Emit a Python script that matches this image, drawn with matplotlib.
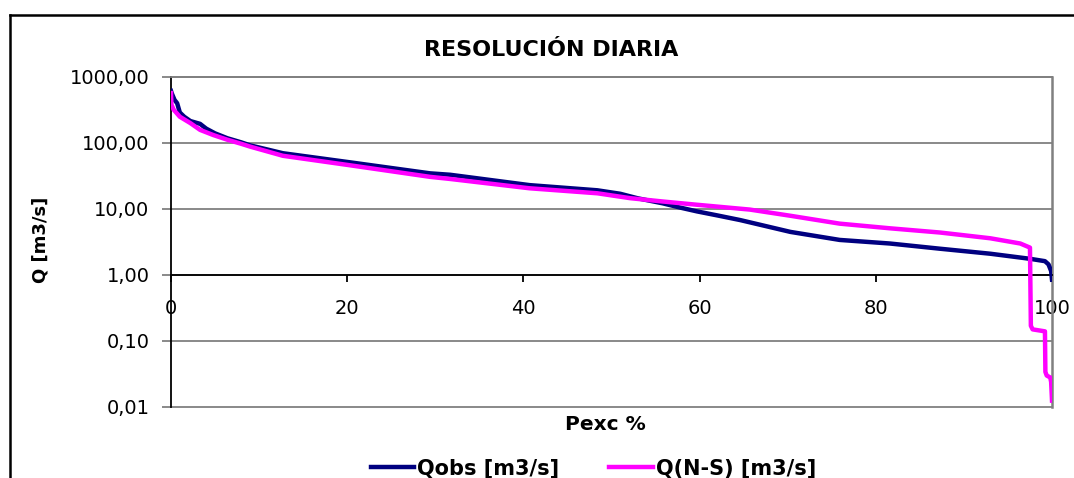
import matplotlib
matplotlib.use("Agg")
import matplotlib.pyplot as plt
from matplotlib.lines import Line2D

plt.rcParams['font.family'] = ['DejaVu Sans']

# ---- data ----
pexc_obs = [0, 0.1, 0.4, 0.7, 1.0, 1.5, 2.2, 3.3, 4.0, 5.0, 6.4, 8.0, 9.0,
            12.7, 20.3, 29.4, 31.7, 40.7, 48.4, 51.0, 53.0, 55.8, 57.8, 59.7,
            62.0, 64.6, 70.3, 75.9, 81.6, 87.3, 93.0, 97.5, 99.2, 99.6, 99.9,
            100]
q_obs = [615, 560, 450, 400, 290, 250, 215, 195, 165, 140, 118, 102, 92,
         70, 51, 34.7, 33, 23, 19.2, 17, 14.5, 12.2, 10.5, 9.2,
         8.0, 6.8, 4.5, 3.4, 3.0, 2.5, 2.1, 1.76, 1.62, 1.45, 1.15,
         0.85]

pexc_ns = [0, 0.05, 0.3, 1.0, 2.2, 3.3, 4.8, 6.4, 8.0, 9.0, 12.7, 20.3, 29.4,
           31.7, 40.7, 48.4, 52.1, 55.8, 59.7, 65.7, 70.3, 75.9, 81.6, 87.3,
           93.0, 96.4, 97.5, 97.6, 97.8, 99.2, 99.25, 99.4, 99.8, 99.9, 100]
q_ns = [570, 380, 320, 250, 200, 158, 132, 112, 97, 88, 64, 46, 30.7,
        28.5, 20.6, 17.3, 14.6, 13.0, 11.6, 9.8, 7.9, 6.0, 5.1, 4.4,
        3.6, 3.0, 2.6, 0.17, 0.15, 0.14, 0.034, 0.03, 0.028, 0.024, 0.0125]

y_ticks = [0.01, 0.1, 1, 10, 100, 1000]
y_tick_labels = ["0,01", "0,10", "1,00", "10,00", "100,00", "1000,00"]
x_ticks = [0, 20, 40, 60, 80, 100]
x_tick_labels = ["0", "20", "40", "60", "80", "100"]

title = "RESOLUCIÓN DIARIA"
xlabel = "Pexc %"
ylabel = "Q [m3/s]"
series_names = ["Qobs [m3/s]", "Q(N-S) [m3/s]"]

W, H = 1074, 478
fig = plt.figure(figsize=(W / 100, H / 100), dpi=100)
fig.patch.set_facecolor("white")

ax = fig.add_axes([171 / W, 1 - 407 / H, (1052 - 171) / W, (407 - 77) / H])
ax.set_yscale("log")
ax.set_xlim(0, 100)
ax.set_ylim(0.01, 1000)

grid_col = "#808080"
ax.set_yticks(y_ticks)
ax.set_yticklabels(y_tick_labels)
ax.yaxis.set_minor_locator(matplotlib.ticker.NullLocator())
ax.set_xticks(x_ticks)
ax.set_xticklabels(x_tick_labels)
for y in y_ticks:
    ax.axhline(y, color=grid_col, lw=1.3, zorder=1, clip_on=False)

ax.spines["left"].set_color("black")
ax.spines["left"].set_linewidth(1.3)
ax.spines["top"].set_color(grid_col)
ax.spines["top"].set_linewidth(1.3)
ax.spines["right"].set_color(grid_col)
ax.spines["right"].set_linewidth(1.8)
ax.spines["bottom"].set_position(("data", 1))
ax.spines["bottom"].set_color("black")
ax.spines["bottom"].set_linewidth(1.3)

ax.tick_params(axis="y", direction="out", length=6.5, width=1.3, color=grid_col,
               pad=9, labelsize=14, labelcolor="black")
ax.tick_params(axis="x", direction="out", length=5, width=1.3, color="black",
               pad=12, labelsize=14)

ax.plot(pexc_obs, q_obs, color="#000080", lw=3.2, zorder=3, label=series_names[0])
ax.plot(pexc_ns, q_ns, color="#FF00FF", lw=3.2, zorder=4, label=series_names[1])

fig.text(551 / W, 1 - 50 / H, title, ha="center", va="center",
         fontsize=16, fontweight="bold")
fig.text(41 / W, 1 - 240 / H, ylabel, ha="center", va="center",
         rotation=90, fontsize=13, fontweight="bold")
fig.text(605 / W, 1 - 424 / H, xlabel, ha="center", va="center",
         fontsize=14.5, fontweight="bold")

fig.legend(loc="center", bbox_to_anchor=(593.5 / W, 1 - 468 / H), ncol=2,
           frameon=False, prop={"size": 15, "weight": "bold"},
           handlelength=2.07, handletextpad=0.15, columnspacing=2.4,
           borderaxespad=0, borderpad=0)

# outer chart frame (extends beyond right and bottom edges)
fig.add_artist(Line2D([10 / W, 1.01], [1 - 15 / H, 1 - 15 / H],
                      transform=fig.transFigure, color="black", lw=1.8))
fig.add_artist(Line2D([10 / W, 10 / W], [1 - 15 / H, -0.01],
                      transform=fig.transFigure, color="black", lw=1.8))

fig.savefig("out.png", dpi=100)
